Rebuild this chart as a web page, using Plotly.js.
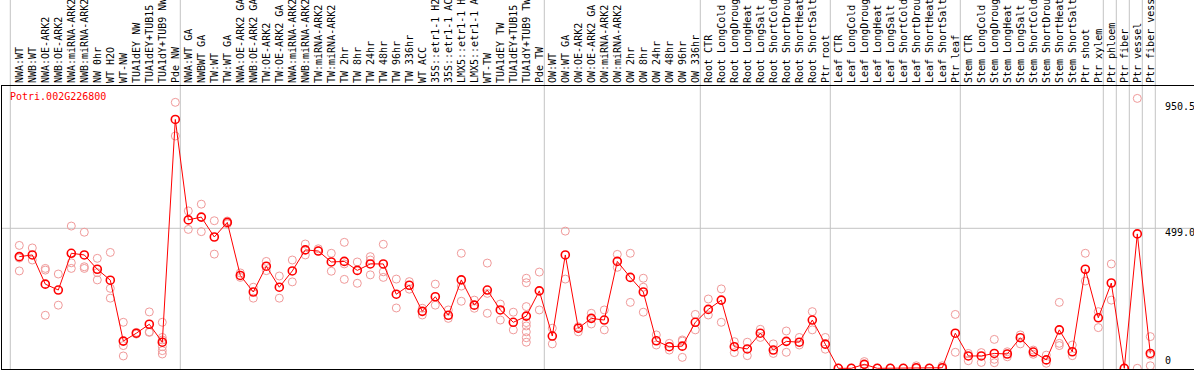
<!DOCTYPE html>
<html><head><meta charset="utf-8">
<script src="https://cdn.plot.ly/plotly-3.0.1.min.js"></script>
<style>html,body{margin:0;padding:0;background:#fff;overflow:hidden}#chart{width:1194px;height:370px}</style>
</head><body><div id="chart"></div>
<script>
const geneId = "Potri.002G226800";
const categories = [
 "NWA:WT","NWB:WT","NWA:OE-ARK2","NWB:OE-ARK2","NWA:miRNA-ARK2","NWB:miRNA-ARK2","NW 0hr","WT H2O","WT-NW","TUA1dEY NW","TUA1dEY+TUB15 NW","TUA1dY+TUB9 NW","Pde NW",
 "NWA:WT GA","NWBWT GA","TW:WT","TW:WT GA","NWA:OE-ARK2 GA","NWB:OE-ARK2 GA","TW:OE-ARK2","TW:OE-ARK2 GA","NWA:miRNA-ARK2 GA","NWB:miRNA-ARK2 GA","TW:miRNA-ARK2","TW:miRNA-ARK2 GA","TW 2hr","TW 8hr","TW 24hr","TW 48hr","TW 96hr","TW 336hr","WT ACC","35S::etr1-1 H2O","35S::etr1-1 ACC","LMX5::etr1-1 H2O","LMX5::etr1-1 ACC","WT-TW","TUA1dEY TW","TUA1dEY+TUB15 TW","TUA1dY+TUB9 TW","Pde TW",
 "OW:WT","OW:WT GA","OW:OE-ARK2","OW:OE-ARK2 GA","OW:miRNA-ARK2","OW:miRNA-ARK2 GA","OW 2hr","OW 8hr","OW 24hr","OW 48hr","OW 96hr","OW 336hr",
 "Root CTR","Root LongCold","Root LongDrought","Root LongHeat","Root LongSalt","Root ShortCold","Root ShortDrought","Root ShortHeat","Root ShortSalt","Ptr root",
 "Leaf CTR","Leaf LongCold","Leaf LongDrought","Leaf LongHeat","Leaf LongSalt","Leaf ShortCold","Leaf ShortDrought","Leaf ShortHeat","Leaf ShortSalt","Ptr leaf",
 "Stem CTR","Stem LongCold","Stem LongDrought","Stem LongHeat","Stem LongSalt","Stem ShortCold","Stem ShortDrought","Stem ShortHeat","Stem ShortSalt","Ptr shoot",
 "Ptr xylem","Ptr phloem","Ptr fiber","Ptr vessel","Ptr fiber vessel"
];
// number of consecutive categories between the grey separator lines
const groupSizes = [13, 28, 12, 10, 10, 11, 1, 1, 1, 1];
const means = [
 398,404,300,279,410,404,353,314,97,125,157,93,887,
 529,539,468,520,331,272,364,289,347,422,418,379,381,349,372,372,264,296,203,255,189,315,225,279,208,164,186,276,
 115,404,143,178,172,381,324,272,98,77,79,164,
 210,243,77,69,125,65,96,93,172,86,
 0,0,14,0,0,0,2,0,2,125,
 44,44,53,51,109,58,30,137,59,353,
 180,304,0,479,53
];
const replicates = [
 [438,393,347],[429,386],[356,350,189],[336,225],[507,376,356],[485,362,356],[392,341,315],[413,285,250],[164,81,44],[128,122],[201,130,128],[164,110,101,77,63,51],[948,828],
 [561,495],[585,487],[526,407],[525,515],[340,324],[289,250],[381,348],[329,250],[386,308],[443,404],[426,418],[410,346],[449,372,317],[379,303],[398,386,333],[442,344,324],[318,215],[309,282],[214,190],[300,225],[208,178],[410,293,239],[243,214],[375,267,196],[229,172],[200,137],[321,305,220,163,151,130,109,93],[343,208],
 [143,87],[489,318],[148,130],[196,158],[208,137],[406,360],[410,235],[321,289,200],[119,83],[89,65],[101,97,39],[192,137],
 [247,190],[283,164],[95,56],[93,45],[139,110],[87,53],[133,57],[110,83],[202,137],[110,68],
 [0,0],[0,0],[24,0],[0,0],[0,0],[0,0],[9,0],[0,0],[9,0],[192,57],
 [53,27],[56,21],[103,32,20],[59,41],[119,87],[65,50],[47,18],[235,89,81],[83,45],[410,311],
 [202,145],[372,243],[0,0],[962,0],[113,47,9]
];
const yTickVals = [0, 499.0, 950.5];
const yTickText = ["0", "499.0", "950.5"];

const W = 1194, H = 370;
const M = {l: 2, r: 0, t: 86, b: 1};
const plotW = W - M.l - M.r, plotH = H - M.t - M.b;
const idx = categories.map((_, i) => i);

const repX = [], repY = [];
replicates.forEach((arr, i) => arr.forEach(v => { repX.push(i); repY.push(v); }));

const traces = [
 {x: repX, y: repY, type: 'scatter', mode: 'markers', cliponaxis: false, hoverinfo: 'skip',
  marker: {symbol: 'circle-open', size: 8, color: '#f09a9a', line: {width: 1, color: '#f09a9a'}}},
 {x: idx, y: means, type: 'scatter', mode: 'lines+markers', cliponaxis: false,
  line: {color: '#ff0000', width: 1},
  marker: {symbol: 'circle-open', size: 8, color: '#ff0000', line: {width: 1.6, color: '#ff0000'}}}
];

// separators: left edge line, then after the last category of each group
const shapes = [];
const sepOffset = 5 / 13;
const sepTop = 1 + M.t / plotH;
shapes.push({type: 'line', xref: 'x', yref: 'paper', x0: -9 / 13, x1: -9 / 13, y0: 0, y1: sepTop, line: {color: '#c4c4c4', width: 1}, layer: 'below'});
let cum = -1;
groupSizes.forEach(n => {
  cum += n;
  shapes.push({type: 'line', xref: 'x', yref: 'paper', x0: cum + sepOffset, x1: cum + sepOffset, y0: 0, y1: sepTop, line: {color: '#c4c4c4', width: 1}, layer: 'below'});
});
shapes.push({type: 'line', xref: 'paper', yref: 'y', x0: 0, x1: 1, y0: yTickVals[1], y1: yTickVals[1], line: {color: '#c4c4c4', width: 1}, layer: 'below'});

const mono = 'DejaVu Sans Mono, monospace';
const annotations = yTickVals.map((v, i) => ({
  xref: 'paper', yref: 'y', x: (1163 - M.l) / plotW, y: v, text: yTickText[i], showarrow: false,
  xanchor: 'left', yanchor: i === 0 ? 'bottom' : 'top', yshift: i === 0 ? 0 : 3,
  font: {family: mono, size: 10, color: '#000'}
}));
annotations.push({xref: 'paper', yref: 'paper', x: (8 - M.l) / plotW, y: 1 - (89 - M.t) / plotH,
  text: geneId, showarrow: false, xanchor: 'left', yanchor: 'top', font: {family: mono, size: 10, color: '#ff0000'}});

const layout = {
  width: W, height: H, margin: M, paper_bgcolor: '#fff', plot_bgcolor: '#fff', showlegend: false,
  xaxis: {range: [(M.l - 19.3) / 13, (W - M.r - 19.3) / 13], side: 'top', tickmode: 'array', tickvals: idx, ticktext: categories,
    tickangle: -90, tickfont: {family: mono, size: 10, color: '#000'}, ticks: '', showgrid: false, zeroline: false,
    showline: true, linecolor: '#000', linewidth: 1, mirror: true, automargin: false, fixedrange: true},
  yaxis: {range: [(368.3 - (H - M.b)) / 0.28056, (368.3 - M.t) / 0.28056], showticklabels: false, ticks: '', showgrid: false,
    zeroline: false, showline: true, linecolor: '#000', linewidth: 1, mirror: false, automargin: false, fixedrange: true},
  shapes: shapes, annotations: annotations
};
Plotly.newPlot('chart', traces, layout, {staticPlot: true, displayModeBar: false});
</script></body></html>
